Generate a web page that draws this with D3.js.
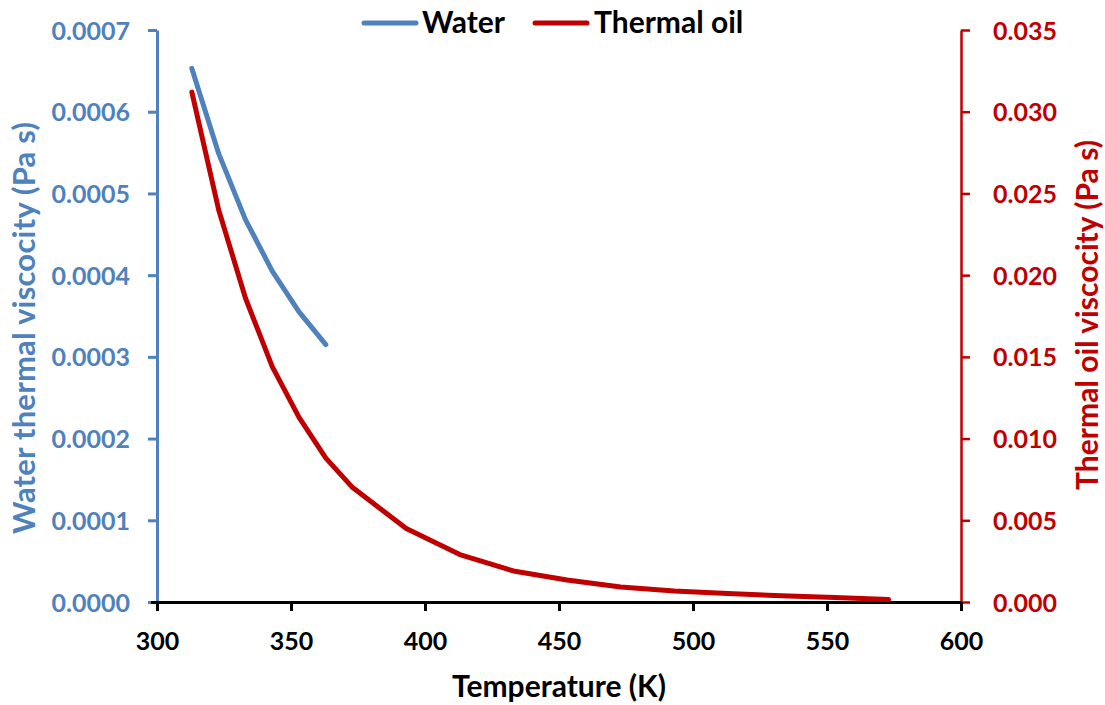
<!DOCTYPE html>
<html>
<head>
<meta charset="utf-8">
<script src="https://cdn.jsdelivr.net/npm/d3@7/dist/d3.min.js"></script>
<style>
  html, body { margin: 0; padding: 0; background: #fff; }
  svg { display: block; }
  text { font-family: Lato, "Open Sans", sans-serif; font-weight: bold; }
</style>
</head>
<body>
<svg id="chart" width="1105" height="705"></svg>
<script>
// Temperatures (K) and dynamic viscosities (Pa s)
const waterTemp = [313, 323, 333, 343, 353, 363];
const waterVisc = [0.000653, 0.000549, 0.000468, 0.000405, 0.000355, 0.000315];

const oilTemp = [313, 323, 333, 343, 353, 363, 373, 393, 413, 433, 453, 473, 493, 513, 533, 553, 573];
const oilVisc = [0.0312, 0.0240, 0.0186, 0.0144, 0.0113, 0.0088, 0.0070, 0.0045, 0.0029, 0.0019,
                 0.00135, 0.00092, 0.00068, 0.00052, 0.00038, 0.00028, 0.00015];

const xTicks = [300, 350, 400, 450, 500, 550, 600];
const leftTicks = [0, 0.0001, 0.0002, 0.0003, 0.0004, 0.0005, 0.0006, 0.0007];
const rightTicks = [0, 0.005, 0.010, 0.015, 0.020, 0.025, 0.030, 0.035];

const seriesNames = ["Water", "Thermal oil"];

const BLUE = "#4F81BD";
const RED = "#C00000";

const svg = d3.select("#chart");
const plot = { left: 157, right: 961, top: 30, bottom: 602 };

const x = d3.scaleLinear().domain([300, 600]).range([plot.left, plot.right]);
const yL = d3.scaleLinear().domain([0, 0.0007]).range([plot.bottom, plot.top]);
const yR = d3.scaleLinear().domain([0, 0.035]).range([plot.bottom, plot.top]);

// Left axis (water)
const gL = svg.append("g")
  .attr("transform", `translate(${plot.left},0)`)
  .call(d3.axisLeft(yL).tickValues(leftTicks).tickSize(9).tickSizeOuter(0)
        .tickFormat(d3.format(".4f")));
gL.select(".domain").attr("stroke", BLUE).attr("stroke-width", 3);
gL.selectAll(".tick line").attr("stroke", BLUE).attr("stroke-width", 3);
gL.selectAll(".tick text")
  .attr("x", -27).attr("dy", "0.36em")
  .attr("fill", BLUE).style("font-size", "25px");

// Right axis (thermal oil)
const gR = svg.append("g")
  .attr("transform", `translate(${plot.right},0)`)
  .call(d3.axisRight(yR).tickValues(rightTicks).tickSize(9).tickSizeOuter(0)
        .tickFormat(d3.format(".3f")));
gR.select(".domain").attr("stroke", RED).attr("stroke-width", 2.5);
gR.selectAll(".tick line").attr("stroke", RED).attr("stroke-width", 2.5);
gR.selectAll(".tick text")
  .attr("x", 32).attr("dy", "0.36em")
  .attr("fill", RED).style("font-size", "25px");

// Bottom axis (temperature)
const gX = svg.append("g")
  .attr("transform", `translate(0,${plot.bottom})`)
  .call(d3.axisBottom(x).tickValues(xTicks).tickSize(9).tickSizeOuter(0)
        .tickFormat(d3.format("d")));
gX.select(".domain").attr("stroke", "#000").attr("stroke-width", 3)
  .attr("d", `M${plot.left - 6},0.5H${plot.right}`);
gX.selectAll(".tick line").attr("stroke", "#000").attr("stroke-width", 3);
gX.selectAll(".tick text")
  .attr("y", 48).attr("dy", 0)
  .attr("fill", "#000").style("font-size", "25px");

// Data lines
const lineL = d3.line().x((d, i) => x(waterTemp[i])).y(d => yL(d));
const lineR = d3.line().x((d, i) => x(oilTemp[i])).y(d => yR(d));

svg.append("path").datum(oilVisc)
  .attr("d", lineR).attr("fill", "none").attr("stroke", RED)
  .attr("stroke-width", 5).attr("stroke-linecap", "round").attr("stroke-linejoin", "round");

svg.append("path").datum(waterVisc)
  .attr("d", lineL).attr("fill", "none").attr("stroke", BLUE)
  .attr("stroke-width", 5).attr("stroke-linecap", "round").attr("stroke-linejoin", "round");

// Axis titles
svg.append("text")
  .attr("transform", "translate(35,328) rotate(-90)")
  .attr("text-anchor", "middle").attr("fill", BLUE).style("font-size", "31px")
  .attr("textLength", 412).attr("lengthAdjust", "spacing")
  .text("Water thermal viscocity (Pa s)");

svg.append("text")
  .attr("transform", "translate(1098,315) rotate(-90)")
  .attr("text-anchor", "middle").attr("fill", RED).style("font-size", "30px")
  .attr("textLength", 350).attr("lengthAdjust", "spacing")
  .text("Thermal oil viscocity (Pa s)");

svg.append("text")
  .attr("x", 559).attr("y", 697)
  .attr("text-anchor", "middle").attr("fill", "#000").style("font-size", "30px")
  .text("Temperature (K)");

// Legend
const legend = [
  { name: seriesNames[0], color: BLUE, x0: 364, x1: 416, tx: 422 },
  { name: seriesNames[1], color: RED, x0: 535, x1: 587, tx: 594 }
];
const lg = svg.append("g");
legend.forEach(l => {
  lg.append("line").attr("x1", l.x0).attr("x2", l.x1).attr("y1", 23).attr("y2", 23)
    .attr("stroke", l.color).attr("stroke-width", 5).attr("stroke-linecap", "round");
  lg.append("text").attr("x", l.tx).attr("y", 33).attr("fill", "#000")
    .style("font-size", "30px").text(l.name);
});
</script>
</body>
</html>
